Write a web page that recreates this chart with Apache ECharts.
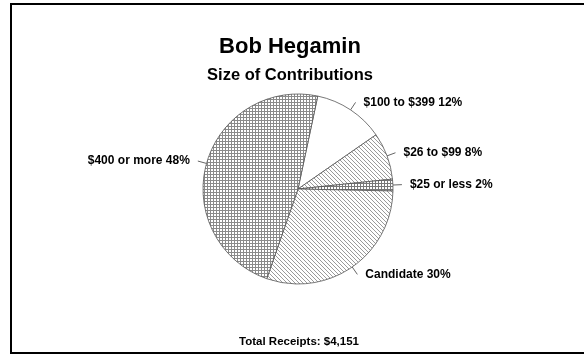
<!DOCTYPE html>
<html>
<head>
<meta charset="utf-8">
<script src="https://cdn.jsdelivr.net/npm/echarts@6/dist/echarts.min.js"></script>
<style>
html,body{margin:0;padding:0;background:#fff;}
#chart{width:584px;height:354px;}
</style>
</head>
<body>
<div id="chart"></div>
<script>
const titleText = 'Bob Hegamin';
const subtitleText = 'Size of Contributions';
const footerText = 'Total Receipts: $4,151';
const categories = ['$100 to $399', '$26 to $99', '$25 or less', 'Candidate', '$400 or more'];
const values = [12, 8, 2, 30, 48];
const patternKinds = ['plain', 'diag', 'grid2', 'diag', 'grid'];

function makePattern(kind) {
  const c = document.createElement('canvas');
  const ctx = c.getContext('2d');
  if (kind === 'plain') {
    c.width = 4; c.height = 4;
    ctx.fillStyle = '#fff'; ctx.fillRect(0, 0, 4, 4);
  } else if (kind === 'grid') {
    c.width = 3; c.height = 3;
    ctx.fillStyle = '#fff'; ctx.fillRect(0, 0, 3, 3);
    ctx.fillStyle = '#8a8a8a';
    ctx.fillRect(0, 0, 3, 1);
    ctx.fillRect(0, 0, 1, 3);
  } else if (kind === 'grid2') {
    c.width = 3; c.height = 3;
    ctx.fillStyle = '#fff'; ctx.fillRect(0, 0, 3, 3);
    ctx.fillStyle = '#777';
    ctx.fillRect(0, 0, 3, 1);
    ctx.fillRect(0, 0, 1, 3);
  } else if (kind === 'diag') {
    c.width = 4; c.height = 4;
    ctx.fillStyle = '#fff'; ctx.fillRect(0, 0, 4, 4);
    ctx.fillStyle = '#9a9a9a';
    for (let i = 0; i < 4; i++) ctx.fillRect(i, i, 1, 1);
  }
  return { image: c, repeat: 'repeat' };
}

const chart = echarts.init(document.getElementById('chart'), null, { renderer: 'canvas' });
const data = categories.map((name, i) => ({
  name: name,
  value: values[i],
  itemStyle: { color: makePattern(patternKinds[i]) }
}));

chart.setOption({
  backgroundColor: '#fff',
  animation: false,
  graphic: [
    { type: 'rect', shape: { x: 11, y: 4, width: 620, height: 349 }, style: { fill: 'none', stroke: '#000', lineWidth: 2 }, z: 100 },
    { type: 'text', x: 290, y: 47, style: { text: titleText, font: 'bold 22px "Liberation Sans", Arial, sans-serif', fill: '#000', textAlign: 'center', textVerticalAlign: 'middle' } },
    { type: 'text', x: 290, y: 75, style: { text: subtitleText, font: 'bold 16.5px "Liberation Sans", Arial, sans-serif', fill: '#000', textAlign: 'center', textVerticalAlign: 'middle' } },
    { type: 'text', x: 299, y: 342, style: { text: footerText, font: 'bold 11.5px "Liberation Sans", Arial, sans-serif', fill: '#000', textAlign: 'center', textVerticalAlign: 'middle' } }
  ],
  series: [{
    type: 'pie',
    center: [298, 189],
    radius: 95,
    startAngle: 78,
    clockwise: true,
    avoidLabelOverlap: false,
    data: data,
    itemStyle: { borderColor: '#555', borderWidth: 0.8 },
    emphasis: { disabled: true },
    label: {
      show: true,
      position: 'outside',
      formatter: '{b} {c}%',
      color: '#000',
      fontFamily: '"Liberation Sans", Arial, sans-serif',
      fontWeight: 'bold',
      fontSize: 12,
      distanceToLabelLine: 8
    },
    labelLine: {
      show: true,
      length: 9,
      length2: 0,
      smooth: false,
      lineStyle: { color: '#666', width: 1 }
    }
  }]
});
</script>
</body>
</html>
